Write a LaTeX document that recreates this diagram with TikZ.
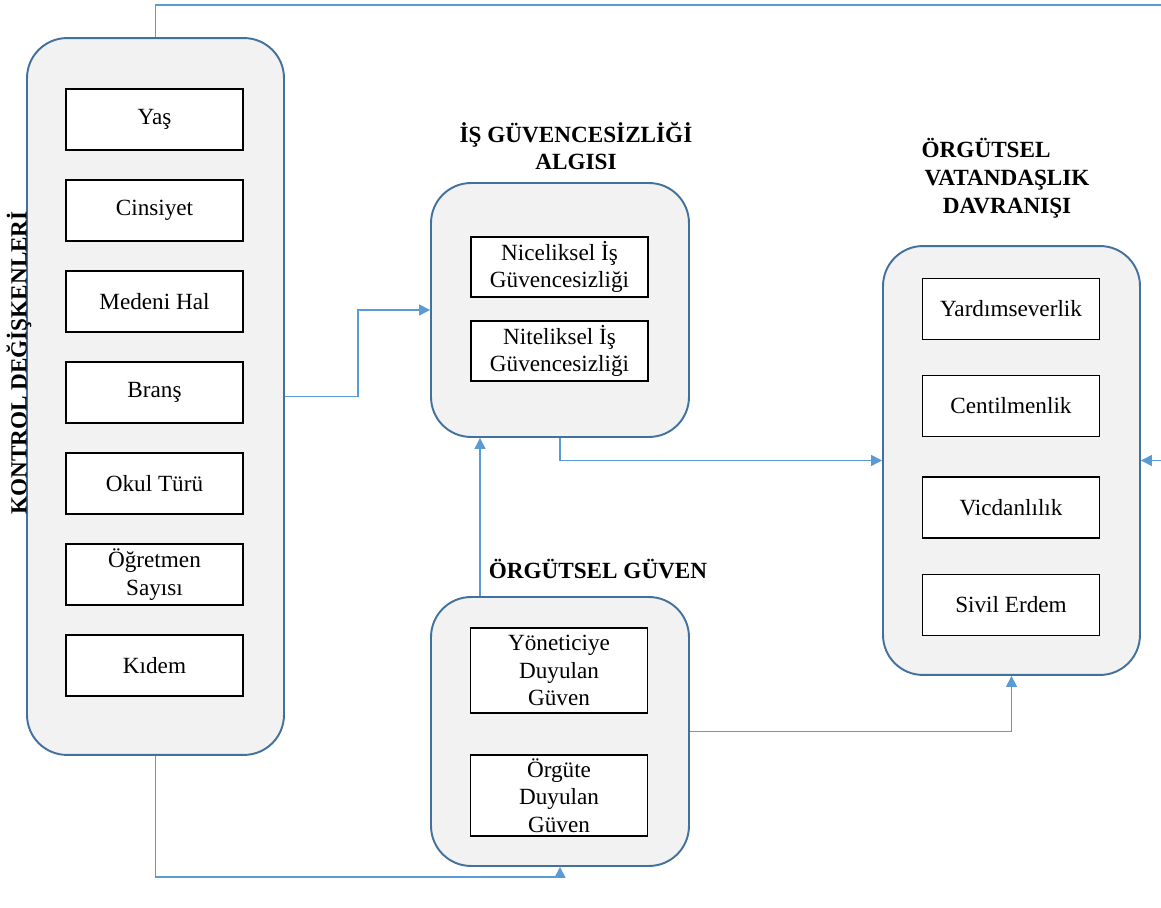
\documentclass[tikz,border=0pt]{standalone}
\usepackage{fontspec}
\setmainfont{Liberation Serif}
\usetikzlibrary{arrows.meta}

\definecolor{boxblue}{HTML}{41719C}
\definecolor{boxfill}{HTML}{F2F2F2}
\definecolor{lineblue}{HTML}{5B9BD5}

\tikzset{
	every node/.style={font=\fontsize{13.2}{15.8}\selectfont},
	bigbox/.style={draw=boxblue, line width=1.1pt, fill=boxfill, rounded corners=0.8cm},
	itembox/.style={draw=black, line width=1pt, fill=white, align=center, inner sep=0pt, minimum width=3.54cm, minimum height=1.22cm},
	title/.style={font=\fontsize{13.2}{15.8}\selectfont\bfseries, align=center},
	conn/.style={lineblue, line width=0.75pt, -{Triangle[length=2.2mm,width=2.2mm]}}
}

\begin{document}
\begin{tikzpicture}[x={(0.02cm,0)}, y={(0,-0.02cm)}]
			\useasboundingbox (0,0) rectangle (1161,908); %page size of the reference
			\clip (0,0) rectangle (1161,908);
			
			%the four big rounded boxes
			\node[bigbox, minimum width=5.14cm, minimum height=14.34cm] (kontrol) at (155.5,396.5) {};
			\node[bigbox, minimum width=5.16cm, minimum height=5.08cm] (isg) at (560,310) {};
			\node[bigbox, minimum width=5.16cm, minimum height=5.38cm] (guven) at (560,731.5) {};
			\node[bigbox, minimum width=5.14cm, minimum height=8.58cm] (ovd) at (1011.5,460.5) {};
			
			%titles
			\node[title, rotate=90] (kontroltitle) at (19,363) {KONTROL DEĞİŞKENLERİ};
			\node[title] (isgtitle) at (576,146) {İŞ GÜVENCESİZLİĞİ\\ALGISI};
			\node[title] (guventitle) at (598,569) {ÖRGÜTSEL GÜVEN};
			\node[title] (ovdtitle) at (1007,178) {ÖRGÜTSEL\hspace*{1.8em}\\VATANDAŞLIK\\DAVRANIŞI};
			
			%control variables
			\foreach \name/\txt [count=\i] in {yas/Yaş, cinsiyet/Cinsiyet, medeni/Medeni Hal, brans/Branş, okul/Okul Türü, ogretmen/{Öğretmen\\Sayısı}, kidem/Kıdem}
				\node[itembox] (\name) at (154.5,{119.5+91*(\i-1)}) {\txt};
			
			%job insecurity
			\node[itembox, minimum height=1.2cm] (nicel) at (559.5,267) {Niceliksel İş\\Güvencesizliği};
			\node[itembox, minimum height=1.2cm] (nitel) at (559.5,351) {Niteliksel İş\\Güvencesizliği};
			
			%organizational trust
			\node[itembox, minimum height=1.7cm] (yonetici) at (559,670.5) {Yöneticiye\\Duyulan\\Güven};
			\node[itembox, minimum height=1.62cm] (orgute) at (559,795.5) {Örgüte\\Duyulan\\Güven};
			
			%citizenship behaviour
			\node[itembox] (yardim) at (1011,309) {Yardımseverlik};
			\node[itembox] (centil) at (1011,406) {Centilmenlik};
			\node[itembox] (vicdan) at (1011,507.5) {Vicdanlılık};
			\node[itembox] (sivil) at (1011,605) {Sivil Erdem};
			
			%connectors
			\coordinate (offright) at (1180,5); %goes out of the page on the right
			\draw[conn] (kontrol.east) -- ++(73,0) |- (isg.west);
			\draw[conn] ([xshift=-1.6cm]guven.north) -- ([xshift=-1.6cm]isg.south);
			\draw[conn] (isg.south) |- (ovd.west);
			\draw[conn] (guven.east) -| (ovd.south);
			\draw[conn] (kontrol.south) -- ++(0,121) -| (guven.south);
			\draw[conn] (kontrol.north) |- (offright) |- (ovd.east);
		\end{tikzpicture}
\end{document}
